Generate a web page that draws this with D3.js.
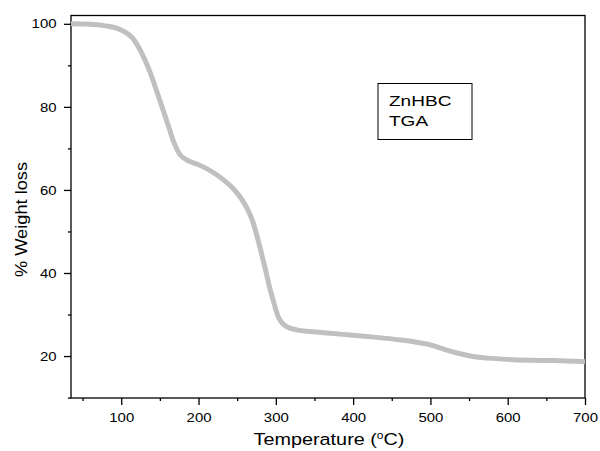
<!DOCTYPE html>
<html><head><meta charset="utf-8">
<script src="https://cdn.jsdelivr.net/npm/d3@7"></script>
<style>body{margin:0;background:#fff}svg{display:block}text{font-family:Arial,"Liberation Sans",sans-serif;fill:#000}</style>
</head><body>
<svg id="c" width="600" height="451"></svg>
<script>
const temperature = [35,60,80,95,105,115,125,137,150,160,168,176,185,197,210,223,235,245,255,263,270,279,287,292,298,303,308,315,327,345,370,400,430,460,480,500,520,540,555,575,600,630,660,700];
const weight = [100,99.9,99.5,98.9,98.0,96.5,93.5,88.5,81.5,76,71.5,68.5,67.2,66.3,65.2,63.7,62,60.3,58,55.5,52.5,46.5,40.5,36.5,32.5,29.5,28,27,26.3,25.9,25.5,25.0,24.5,23.9,23.4,22.7,21.5,20.5,19.9,19.5,19.2,19.0,18.9,18.6];
const xTicks = [100,200,300,400,500,600,700];
const xMinor = [50,150,250,350,450,550,650];
const yTicks = [20,40,60,80,100];
const yMinor = [10,30,50,70,90];
const legendLines = ["ZnHBC","TGA"];

const L=71,T=15.5,R=585,B=398;
const svg=d3.select("#c");
const x=d3.scaleLinear().domain([35,700]).range([L,R]);
const y=d3.scaleLinear().domain([9.9,102]).range([B,T]);

function stretch(sel,sx){
  sel.each(function(){
    const t=d3.select(this);
    const ax=+(t.attr("x")||0), ay=+(t.attr("y")||0);
    t.attr("transform",`translate(${ax},${ay}) scale(${sx},1) translate(${-ax},${-ay})`);
  });
}

// frame
svg.append("rect").attr("x",L).attr("y",T).attr("width",R-L).attr("height",B-T)
  .attr("fill","none").attr("stroke","#000").attr("stroke-width",1.3);

// curve
const data=temperature.map((t,i)=>[t,weight[i]]);
svg.append("path").datum(data)
  .attr("d",d3.line().x(d=>x(d[0])).y(d=>y(d[1])).curve(d3.curveMonotoneX))
  .attr("fill","none").attr("stroke","#c0c0c0").attr("stroke-width",5).attr("stroke-linecap","butt");

// x axis
const xa=svg.append("g").attr("transform",`translate(0,${B})`)
  .call(d3.axisBottom(x).tickValues(xTicks).tickSize(7).tickPadding(8).tickFormat(d3.format("d")));
const xm=svg.append("g").attr("transform",`translate(0,${B})`)
  .call(d3.axisBottom(x).tickValues(xMinor).tickSize(3).tickFormat(""));
// y axis
const ya=svg.append("g").attr("transform",`translate(${L},0)`)
  .call(d3.axisLeft(y).tickValues(yTicks).tickSize(7).tickPadding(7.5).tickFormat(d3.format("d")));
const ym=svg.append("g").attr("transform",`translate(${L},0)`)
  .call(d3.axisLeft(y).tickValues(yMinor).tickSize(3).tickFormat(""));
[xa,xm,ya,ym].forEach(g=>{
  g.select(".domain").remove();
  g.selectAll("line").attr("stroke","#000").attr("stroke-width",1.3);
  g.selectAll("text").attr("font-size",13).attr("font-family","Arial, 'Liberation Sans', sans-serif").attr("fill","#000");
});
stretch(xa.selectAll("text"),1.15);
stretch(ya.selectAll("text"),1.15);

// axis titles
const xt=svg.append("text").attr("x",329).attr("y",445).attr("text-anchor","middle").attr("font-size",16.5);
xt.append("tspan").text("Temperature (");
xt.append("tspan").attr("font-size",10).attr("dy",-6).text("o");
xt.append("tspan").attr("dy",6).text("C)");
stretch(xt,1.2);
svg.append("text").attr("transform","translate(27,219.5) rotate(-90) scale(1.14,1)").attr("text-anchor","middle")
  .attr("font-size",16).text("% Weight loss");

// legend box
svg.append("rect").attr("x",378).attr("y",83.5).attr("width",94).attr("height",56)
  .attr("fill","none").attr("stroke","#000").attr("stroke-width",1);
const lg=svg.selectAll(".lg").data(legendLines).enter().append("text")
  .attr("x",389).attr("y",(d,i)=>106.5+i*20).attr("font-size",15).text(d=>d);
stretch(lg,1.27);
</script>
</body></html>
